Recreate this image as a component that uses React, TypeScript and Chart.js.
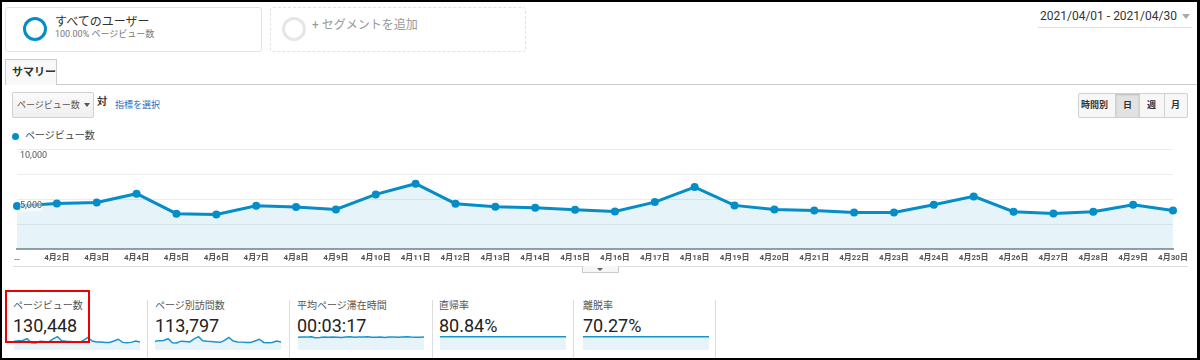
import React, { useEffect, useRef } from 'react';
import { Chart, registerables } from 'chart.js';

Chart.register(...registerables);

// ---- data ----
const dayLabels = [
  '4月1日', '4月2日', '4月3日', '4月4日', '4月5日', '4月6日', '4月7日', '4月8日', '4月9日', '4月10日',
  '4月11日', '4月12日', '4月13日', '4月14日', '4月15日', '4月16日', '4月17日', '4月18日', '4月19日', '4月20日',
  '4月21日', '4月22日', '4月23日', '4月24日', '4月25日', '4月26日', '4月27日', '4月28日', '4月29日', '4月30日',
];
const firstTickLabel = '…';
const yTickLabels = ['5,000', '10,000'];

const pageViews = [
  4290, 4560, 4660, 5530, 3530, 3460, 4330, 4190, 3960, 5460,
  6530, 4530, 4230, 4130, 3930, 3760, 4690, 6190, 4360, 3960,
  3860, 3660, 3660, 4430, 5260, 3730, 3560, 3730, 4430, 3860,
];
const visitsPerPage = [
  3700, 3950, 4020, 4760, 3030, 2980, 3730, 3610, 3400, 4700,
  5620, 3900, 3640, 3560, 3380, 3230, 4040, 5330, 3760, 3410,
  3320, 3150, 3150, 3820, 4540, 3200, 3060, 3200, 3820, 3320,
];
const avgTimeSec = [
  195, 200, 198, 205, 190, 192, 199, 196, 201, 197,
  193, 199, 203, 196, 200, 198, 202, 195, 197, 199,
  194, 201, 198, 196, 200, 203, 199, 197, 195, 198,
];
const entranceRate = [
  80.6, 80.9, 80.7, 81.0, 80.8, 80.9, 80.7, 80.8, 81.0, 80.9,
  80.7, 80.8, 80.9, 80.8, 80.7, 80.9, 81.0, 80.8, 80.7, 80.9,
  80.8, 80.9, 80.7, 80.8, 80.9, 80.8, 80.7, 80.9, 80.8, 80.7,
];
const exitRate = [
  70.2, 70.4, 69.6, 70.1, 70.5, 69.8, 70.3, 70.0, 70.4, 70.2,
  69.9, 70.3, 70.5, 70.1, 70.2, 70.4, 70.0, 70.3, 70.2, 70.5,
  70.1, 69.8, 70.3, 70.4, 70.2, 70.0, 70.3, 70.1, 70.4, 70.2,
];

const metricNames = ['ページビュー数', 'ページ別訪問数', '平均ページ滞在時間', '直帰率', '離脱率'];
const metricValues = ['130,448', '113,797', '00:03:17', '80.84%', '70.27%'];
const metricSeries = [pageViews, visitsPerPage, avgTimeSec, entranceRate, exitRate];

const BLUE = '#058dc7';
const FILL = 'rgba(5,141,199,0.1)';
const FONT = "Roboto, 'Noto Sans CJK JP', sans-serif";

function MainChart() {
  const ref = useRef<HTMLCanvasElement>(null);
  useEffect(() => {
    const yLabelCb = (v: any) => (v === 5000 ? yTickLabels[0] : v === 10000 ? yTickLabels[1] : '');
    const chart = new Chart(ref.current!, {
      type: 'line',
      data: {
        labels: dayLabels,
        datasets: [{
          label: 'ページビュー数',
          data: pageViews,
          borderColor: BLUE,
          backgroundColor: FILL,
          borderWidth: 3,
          pointRadius: 4,
          pointBackgroundColor: BLUE,
          pointBorderWidth: 0,
          fill: 'origin',
          tension: 0,
        }],
      },
      options: {
        responsive: false,
        animation: false,
        devicePixelRatio: 1,
        layout: { padding: { left: 17, right: 27, top: 9, bottom: 0 } },
        plugins: { legend: { display: false }, tooltip: { enabled: false } },
        scales: {
          x: {
            offset: false,
            grid: { display: false, drawTicks: false },
            border: { display: true, color: '#9e9e9e', width: 2 },
            afterFit: (s: any) => { s.height = 21; },
            ticks: {
              autoSkip: false,
              maxRotation: 0,
              minRotation: 0,
              padding: 4,
              color: '#555',
              font: { family: FONT, size: 8, weight: 'bold' },
              callback: (_v: any, i: number) => (i === 0 ? firstTickLabel : dayLabels[i]),
            },
          },
          y: {
            min: 0,
            max: 10000,
            afterFit: (s: any) => { s.width = 0; },
            border: { display: false },
            grid: { color: '#ececec', lineWidth: 1, drawTicks: false },
            ticks: {
              z: 1,
              stepSize: 2500,
              mirror: true,
              padding: 3,
              labelOffset: 7,
              color: '#555',
              showLabelBackdrop: true,
              backdropColor: 'rgba(255,255,255,0.6)',
              backdropPadding: 0,
              font: { family: FONT, size: 9 },
              callback: yLabelCb,
            },
          },
        },
      },
    });
    return () => chart.destroy();
  }, []);
  return (
    <canvas ref={ref} width={1200} height={130}
      style={{ position: 'absolute', left: 0, top: 140, width: 1200, height: 130 }} />
  );
}

function Spark({ data, left, width }: { data: number[]; left: number; width: number }) {
  const ref = useRef<HTMLCanvasElement>(null);
  useEffect(() => {
    const chart = new Chart(ref.current!, {
      type: 'line',
      data: {
        labels: dayLabels,
        datasets: [{
          data,
          borderColor: '#1a94cf',
          backgroundColor: FILL,
          borderWidth: 1.5,
          pointRadius: 0,
          fill: 'origin',
          tension: 0,
          clip: false as any,
        }],
      },
      options: {
        responsive: false,
        animation: false,
        devicePixelRatio: 1,
        layout: { padding: 0 },
        plugins: { legend: { display: false }, tooltip: { enabled: false } },
        scales: {
          x: { display: false, offset: false },
          y: { display: false, min: 0, max: Math.max(...data) * 1.05 },
        },
      },
    });
    return () => chart.destroy();
  }, []);
  return (
    <canvas ref={ref} width={width} height={14}
      style={{ position: 'absolute', left, top: 336, width, height: 14 }} />
  );
}

function T({ x, y, size, color = '#333', weight = 400, children, family = FONT }: any) {
  const h = Math.round(size * 1.4);
  return (
    <div style={{
      position: 'absolute', left: x, top: y - h / 2, height: h, lineHeight: h + 'px',
      fontSize: size, color, fontWeight: weight, whiteSpace: 'nowrap', fontFamily: family,
    }}>{children}</div>
  );
}

function Box({ x, y, w, h, style }: any) {
  return <div style={{ position: 'absolute', left: x, top: y, width: w, height: h, boxSizing: 'border-box', ...style }} />;
}

export default function App() {
  useEffect(() => { document.body.style.margin = '0'; }, []);
  const metricX = [13, 155, 297, 439, 583];
  const sparkX = [14, 155, 298, 440, 583];
  const dividers = [147, 289, 432, 573, 715];
  return (
    <div style={{
      position: 'absolute', left: 0, top: 0, width: 1200, height: 360, boxSizing: 'border-box',
      borderTop: '2px solid #000', borderLeft: '2px solid #000', borderRight: '3px solid #000',
      borderBottom: '2px solid #000', background: '#fff', fontFamily: FONT, overflow: 'hidden',
    }}>
      <div style={{ position: 'absolute', left: -2, top: -2, width: 1200, height: 360 }}>
        {/* segment 1 */}
        <Box x={5} y={7} w={257} h={45} style={{ border: '1px solid #e2e2e2', borderRadius: 3 }} />
        <Box x={23} y={17} w={24} h={24} style={{ border: '3.5px solid ' + BLUE, borderRadius: '50%' }} />
        <T x={55} y={22} size={12} color="#333">すべてのユーザー</T>
        <T x={55} y={34} size={9} color="#777">100.00% ページビュー数</T>
        {/* segment 2 */}
        <Box x={270} y={7} w={256} h={45} style={{ border: '1px dashed #e2e2e2', borderRadius: 3 }} />
        <Box x={282} y={17} w={24} h={24} style={{ border: '3.5px solid #e6e6e6', borderRadius: '50%' }} />
        <T x={312} y={25} size={12} color="#999">+ セグメントを追加</T>
        {/* date */}
        <T x={1040} y={16} size={12} color="#333">2021/04/01 - 2021/04/30</T>
        <div style={{ position: 'absolute', left: 1182, top: 14, width: 0, height: 0,
          borderLeft: '4px solid transparent', borderRight: '4px solid transparent', borderTop: '5px solid #aaa' }} />
        <Box x={1038} y={27} w={154} h={1} style={{ background: '#ddd' }} />
        {/* tab */}
        <Box x={57} y={84} w={1143} h={1} style={{ background: '#ccc' }} />
        <Box x={5} y={59} w={52} h={26} style={{ borderTop: '1px solid #ccc', borderLeft: '1px solid #ccc', borderRight: '1px solid #ccc', background: '#f8f8f8' }} />
        <T x={12} y={72} size={11} weight={700} color="#333">サマリー</T>
        {/* dropdown */}
        <Box x={12} y={92} w={82} h={26} style={{ border: '1px solid #d0d0d0', borderRadius: 2, background: 'linear-gradient(#fafafa,#efefef)' }} />
        <T x={17} y={105} size={9} color="#555">ページビュー数</T>
        <div style={{ position: 'absolute', left: 84, top: 103, width: 0, height: 0,
          borderLeft: '3px solid transparent', borderRight: '3px solid transparent', borderTop: '4px solid #555' }} />
        <T x={97} y={102} size={10} weight={700} color="#333">対</T>
        <T x={115} y={105} size={9} color="#1f6bb5">指標を選択</T>
        {/* period buttons */}
        <Box x={1078} y={93} w={110} h={25} style={{ border: '1px solid #d0d0d0', borderRadius: 2, background: '#f7f7f7' }} />
        <Box x={1115} y={94} w={25} h={23} style={{ background: '#e2e2e2', borderLeft: '1px solid #d0d0d0', borderRight: '1px solid #d0d0d0', boxShadow: 'inset 0 1px 2px #bbb' }} />
        <Box x={1164} y={94} w={1} h={23} style={{ background: '#d0d0d0' }} />
        <T x={1081} y={105} size={9} weight={700} color="#333">時間別</T>
        <T x={1123} y={105} size={9} weight={700} color="#333">日</T>
        <T x={1147} y={105} size={9} weight={700} color="#333">週</T>
        <T x={1171} y={105} size={9} weight={700} color="#333">月</T>
        {/* legend */}
        <Box x={12} y={133} w={7} h={7} style={{ background: BLUE, borderRadius: '50%' }} />
        <T x={25} y={136} size={10} color="#444">ページビュー数</T>
        {/* chart */}
        <MainChart />
        <Box x={13} y={266} w={1175} h={1} style={{ background: '#ddd' }} />
        <Box x={582} y={266} w={37} h={7} style={{ border: '1px solid #ccc', borderTop: 'none', background: '#f6f6f6' }} />
        <div style={{ position: 'absolute', left: 597, top: 268, width: 0, height: 0,
          borderLeft: '3px solid transparent', borderRight: '3px solid transparent', borderTop: '3px solid #666' }} />
        {/* metrics */}
        {dividers.map((d) => <Box key={d} x={d} y={300} w={1} h={60} style={{ background: '#ddd' }} />)}
        {metricNames.map((n, i) => (
          <React.Fragment key={n}>
            <T x={metricX[i]} y={306} size={10} color="#555">{n}</T>
            <T x={metricX[i]} y={325} size={18} color="#222">{metricValues[i]}</T>
            <Spark data={metricSeries[i]} left={sparkX[i]} width={126} />
          </React.Fragment>
        ))}
        <Box x={5} y={290} w={85} h={53} style={{ border: '2px solid #e00' }} />
      </div>
    </div>
  );
}
